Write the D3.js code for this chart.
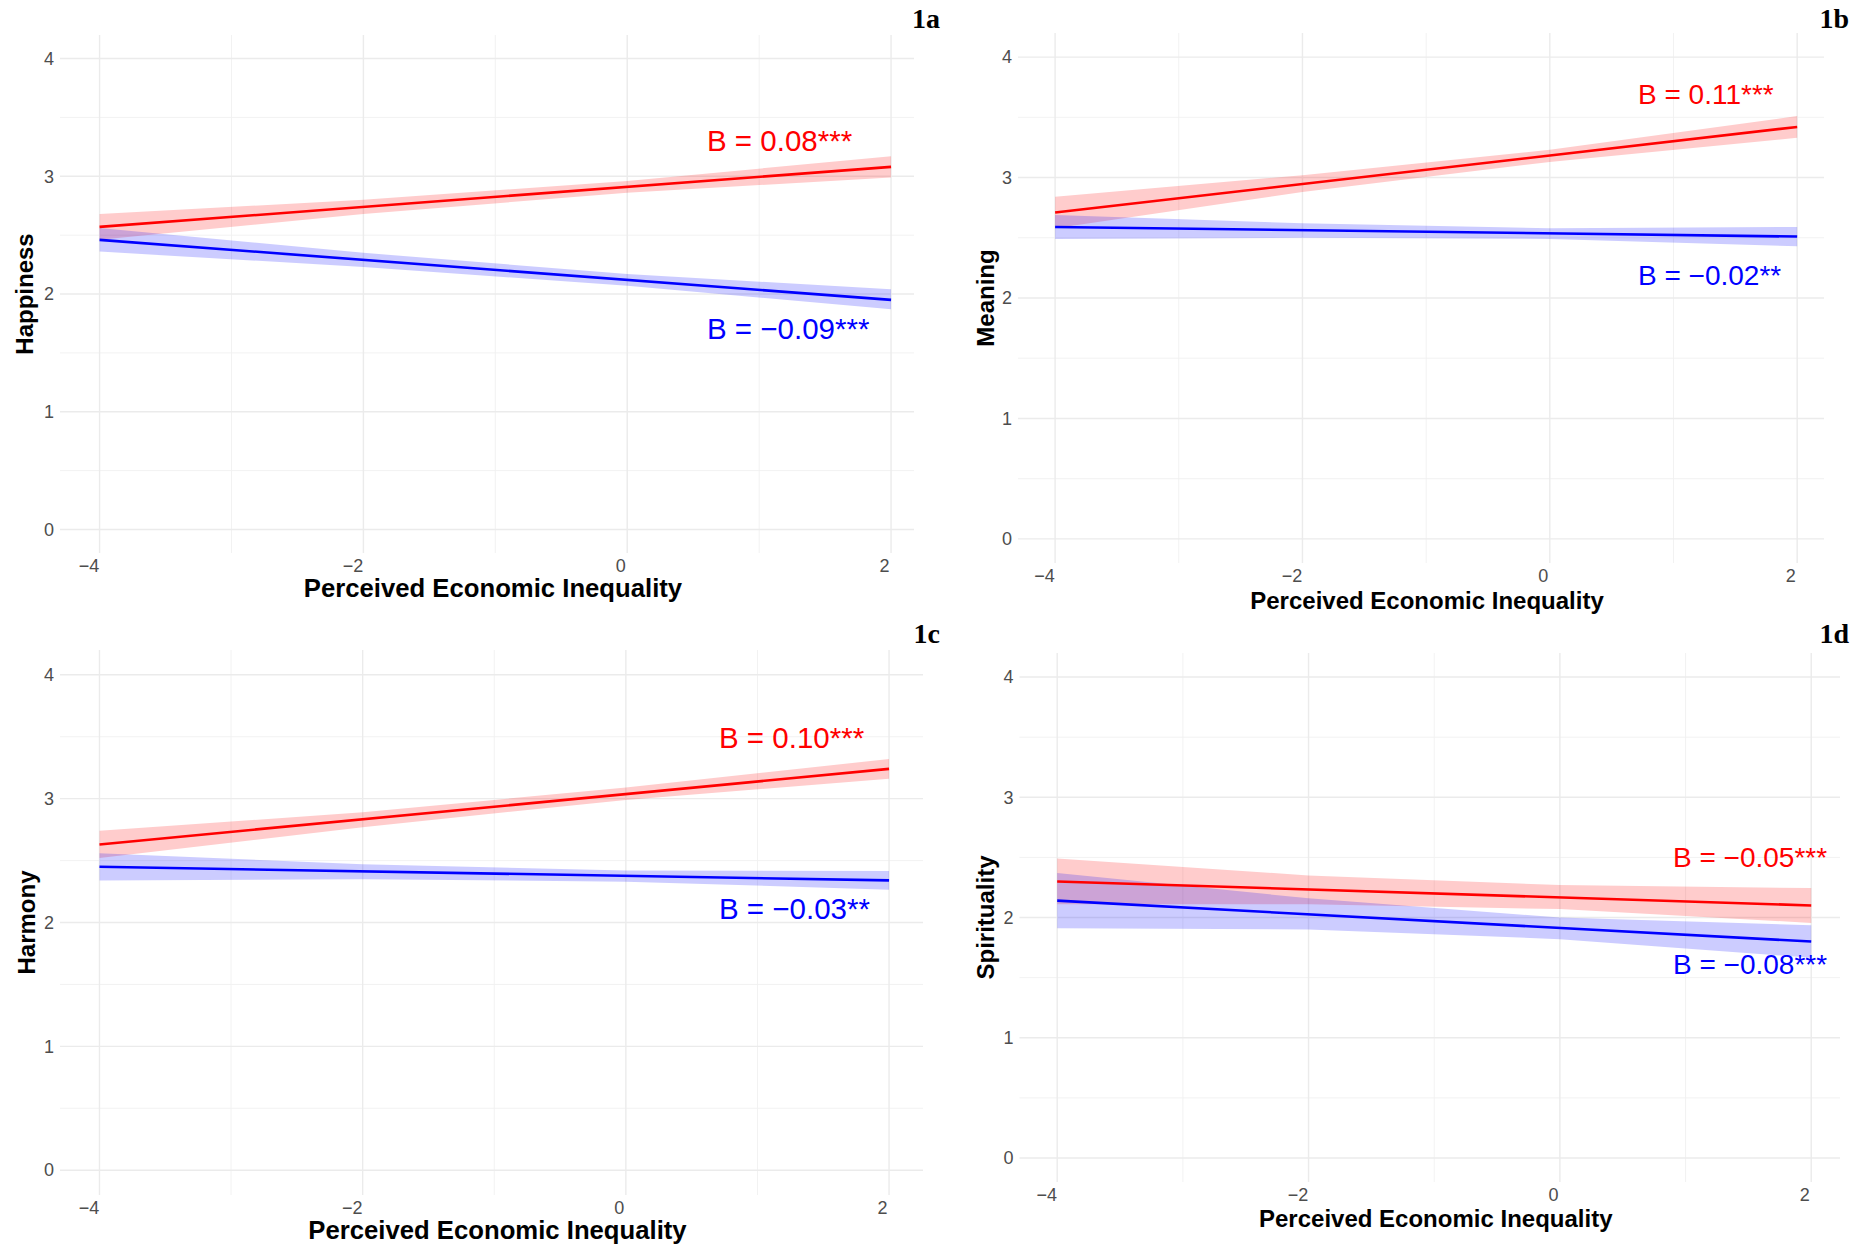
<!DOCTYPE html>
<html>
<head>
<meta charset="utf-8">
<script src="https://cdn.jsdelivr.net/npm/d3@7"></script>
<style>
  html, body { margin: 0; padding: 0; background: #ffffff; }
  svg { display: block; }
  text { font-family: "Liberation Sans", Arial, sans-serif; }
</style>
</head>
<body>
<script>
// ---- data ----
const panelTags = ["1a", "1b", "1c", "1d"];
const outcomes = ["Happiness", "Meaning", "Harmony", "Spirituality"];
const xTitle = "Perceived Economic Inequality";
const xTicks = [-4, -2, 0, 2];
const xMinorTicks = [-3, -1, 1];
const yTicks = [0, 1, 2, 3, 4];
const yMinorTicks = [0.5, 1.5, 2.5, 3.5];

// fitted lines: value at x = -4 and x = 2
const lineX = [-4, 2];
const redLine = [[2.57, 3.08], [2.71, 3.42], [2.63, 3.24], [2.30, 2.10]];
const blueLine = [[2.46, 1.95], [2.59, 2.51], [2.45, 2.34], [2.14, 1.80]];

// confidence bands sampled at these x values
const bandX = [-4, -2, 0, 2];
const redLow = [[2.46, 2.68, 2.86, 2.99], [2.58, 2.88, 3.13, 3.33], [2.52, 2.77, 2.99, 3.16], [2.11, 2.11, 2.07, 1.955]];
const redHigh = [[2.68, 2.80, 2.96, 3.17], [2.84, 3.02, 3.23, 3.51], [2.74, 2.89, 3.09, 3.32], [2.49, 2.35, 2.27, 2.245]];
const blueLow = [[2.36, 2.23, 2.07, 1.87], [2.49, 2.50, 2.49, 2.43], [2.34, 2.35, 2.33, 2.265], [1.91, 1.90, 1.82, 1.665]];
const blueHigh = [[2.56, 2.35, 2.17, 2.04], [2.69, 2.62, 2.58, 2.59], [2.56, 2.47, 2.42, 2.415], [2.37, 2.16, 2.00, 1.935]];

const redLabels = ["B = 0.08***", "B = 0.11***", "B = 0.10***", "B = \u22120.05***"];
const blueLabels = ["B = \u22120.09***", "B = \u22120.02**", "B = \u22120.03**", "B = \u22120.08***"];

// ---- layout (pixel boxes of each plotting panel, text sizes) ----
const layout = [
  { left: 60,     right: 914,  top: 35,  bottom: 553,  xMax: 2.174, yTitleX: 24,  xTitleDy: 44, titleSize: 25.7, noteSize: 29.5, redPos: [707, 151],  bluePos: [707, 339],  tag: [940, 28] },
  { left: 1018,   right: 1824, top: 33,  bottom: 563,  xMax: 2.217, yTitleX: 985, xTitleDy: 46, titleSize: 24,   noteSize: 28,   redPos: [1638, 104], bluePos: [1638, 285], tag: [1849, 28] },
  { left: 60,     right: 923,  top: 650, bottom: 1195, xMax: 2.258, yTitleX: 26,  xTitleDy: 44, titleSize: 25.7, noteSize: 29.5, redPos: [719, 748],  bluePos: [719, 919],  tag: [940, 643] },
  { left: 1019.5, right: 1840, top: 653, bottom: 1182, xMax: 2.229, yTitleX: 985, xTitleDy: 45, titleSize: 24,   noteSize: 28,   redPos: [1673, 867], bluePos: [1673, 974], tag: [1849, 643] }
];

const W = 1866, H = 1248;
const RED = "#ff0000", BLUE = "#0000ff";
const fmt = d => d < 0 ? "\u2212" + Math.abs(d) : String(d);

const svg = d3.select("body").append("svg")
  .attr("width", W).attr("height", H)
  .attr("viewBox", `0 0 ${W} ${H}`);

layout.forEach((L, i) => {
  const x = d3.scaleLinear().domain([-4.3, L.xMax]).range([L.left, L.right]);
  const y = d3.scaleLinear().domain([-0.2, 4.2]).range([L.bottom, L.top]);
  const g = svg.append("g");

  // grid
  const grid = g.append("g");
  grid.selectAll(".ymin").data(yMinorTicks).join("line")
    .attr("x1", L.left).attr("x2", L.right)
    .attr("y1", d => y(d)).attr("y2", d => y(d))
    .attr("stroke", "#f0f0f0").attr("stroke-width", 0.9);
  grid.selectAll(".xmin").data(xMinorTicks).join("line")
    .attr("y1", L.top).attr("y2", L.bottom)
    .attr("x1", d => x(d)).attr("x2", d => x(d))
    .attr("stroke", "#f0f0f0").attr("stroke-width", 0.9);
  grid.selectAll(".ymaj").data(yTicks).join("line")
    .attr("x1", L.left).attr("x2", L.right)
    .attr("y1", d => y(d)).attr("y2", d => y(d))
    .attr("stroke", "#ebebeb").attr("stroke-width", 1.4);
  grid.selectAll(".xmaj").data(xTicks).join("line")
    .attr("y1", L.top).attr("y2", L.bottom)
    .attr("x1", d => x(d)).attr("x2", d => x(d))
    .attr("stroke", "#ebebeb").attr("stroke-width", 1.4);

  // axes (text only, in the minimal theme style)
  const xAxis = g.append("g").attr("transform", `translate(0,${L.bottom})`)
    .call(d3.axisBottom(x).tickValues(xTicks).tickFormat(fmt).tickSize(0).tickPadding(0));
  xAxis.select(".domain").remove();
  xAxis.selectAll("text")
    .attr("y", 19).attr("dy", null).attr("dx", d => d < 0 ? -11 : -7)
    .attr("fill", "#4d4d4d").style("font-size", "18px")
    .style("font-family", "'Liberation Sans', Arial, sans-serif");

  const yAxis = g.append("g").attr("transform", `translate(${L.left},0)`)
    .call(d3.axisLeft(y).tickValues(yTicks).tickFormat(fmt).tickSize(0).tickPadding(6));
  yAxis.select(".domain").remove();
  yAxis.selectAll("text")
    .attr("fill", "#4d4d4d").style("font-size", "18px")
    .style("font-family", "'Liberation Sans', Arial, sans-serif");

  // confidence bands
  const area = d3.area().x(d => x(d[0])).y0(d => y(d[1])).y1(d => y(d[2]));
  const redBand = bandX.map((bx, k) => [bx, redLow[i][k], redHigh[i][k]]);
  const blueBand = bandX.map((bx, k) => [bx, blueLow[i][k], blueHigh[i][k]]);
  g.append("path").attr("d", area(redBand)).attr("fill", RED).attr("fill-opacity", 0.2);
  g.append("path").attr("d", area(blueBand)).attr("fill", BLUE).attr("fill-opacity", 0.2);

  // fitted lines
  const line = d3.line().x(d => x(d[0])).y(d => y(d[1]));
  g.append("path").attr("d", line(lineX.map((lx, k) => [lx, redLine[i][k]])))
    .attr("fill", "none").attr("stroke", RED).attr("stroke-width", 2.6);
  g.append("path").attr("d", line(lineX.map((lx, k) => [lx, blueLine[i][k]])))
    .attr("fill", "none").attr("stroke", BLUE).attr("stroke-width", 2.6);

  // coefficient labels
  g.append("text").attr("x", L.redPos[0]).attr("y", L.redPos[1])
    .attr("fill", RED).style("font-size", L.noteSize + "px").text(redLabels[i]);
  g.append("text").attr("x", L.bluePos[0]).attr("y", L.bluePos[1])
    .attr("fill", BLUE).style("font-size", L.noteSize + "px").text(blueLabels[i]);

  // axis titles
  g.append("text")
    .attr("x", (L.left + L.right) / 2 + 6).attr("y", L.bottom + L.xTitleDy)
    .attr("text-anchor", "middle").attr("fill", "#000")
    .style("font-size", L.titleSize + "px").style("font-weight", "bold")
    .text(xTitle);
  g.append("text")
    .attr("transform", `translate(${L.yTitleX},${(L.top + L.bottom) / 2}) rotate(-90)`)
    .attr("text-anchor", "middle").attr("dominant-baseline", "central")
    .attr("fill", "#000").style("font-size", "24px").style("font-weight", "bold")
    .text(outcomes[i]);

  // panel tag
  g.append("text").attr("x", L.tag[0]).attr("y", L.tag[1])
    .attr("text-anchor", "end").attr("fill", "#000")
    .style("font-family", "'Liberation Serif', 'Times New Roman', serif")
    .style("font-size", "28px").style("font-weight", "bold")
    .text(panelTags[i]);
});
</script>
</body>
</html>
